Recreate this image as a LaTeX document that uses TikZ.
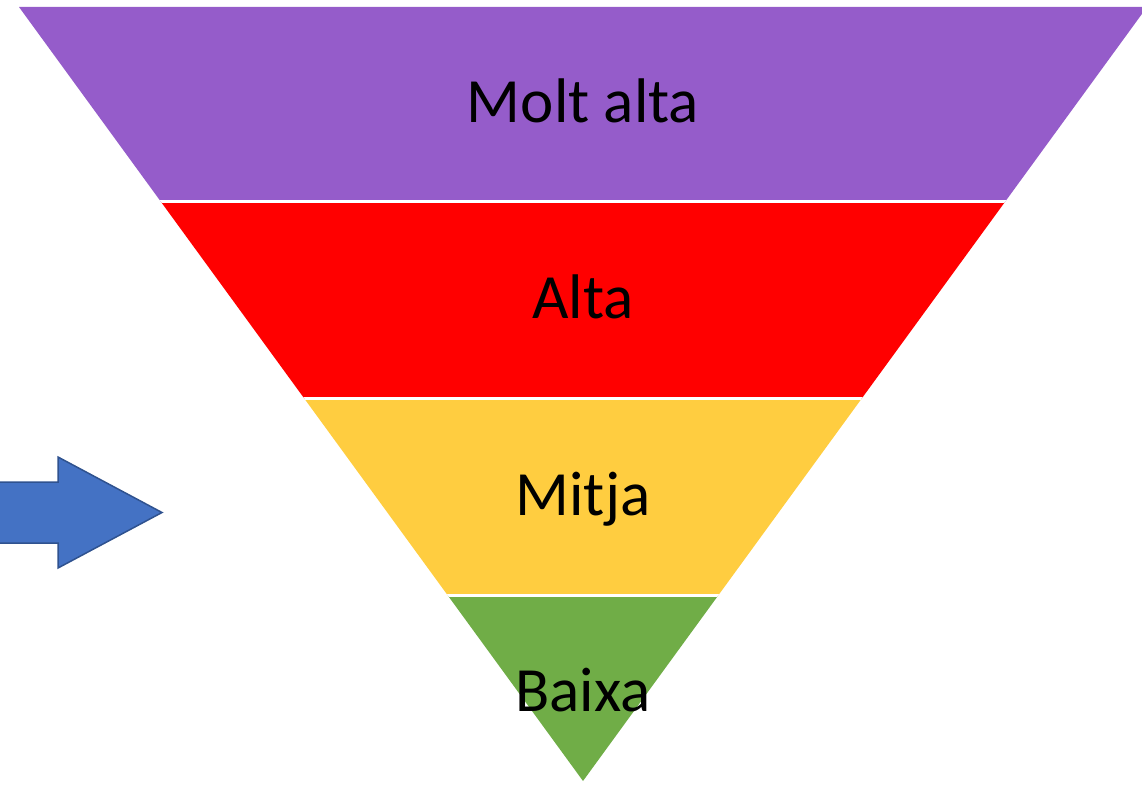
\documentclass[tikz,border=0pt]{standalone}
\usepackage{fontspec}
\setmainfont{Carlito}
\definecolor{cpurple}{HTML}{955CCA}
\definecolor{cred}{HTML}{FF0000}
\definecolor{cyellow}{HTML}{FFCD40}
\definecolor{cgreen}{HTML}{70AD47}
\definecolor{cblue}{HTML}{4472C4}
\definecolor{cblueline}{HTML}{2F528F}
\tikzset{
  lbl/.style={anchor=base, inner sep=0pt, font=\fontsize{63}{76}\selectfont, text=black},
  sep/.style={white, line width=3pt},
  bluearrow/.style={fill=cblue, draw=cblueline, line width=1.5pt, line join=miter},
}
\begin{document}
\begin{tikzpicture}[x=1pt,y=-1pt]
\useasboundingbox (0,0) rectangle (1142,784);
\coordinate (tl) at (19,7);
\coordinate (tr) at (1147,7);
\coordinate (apex) at (583,781);
\begin{scope}
  \clip (tl) -- (tr) -- (apex) -- cycle;
  \fill[cpurple] (0,0) rectangle (1150,201.5);
  \fill[cred] (0,201.5) rectangle (1150,398.5);
  \fill[cyellow] (0,398.5) rectangle (1150,595.5);
  \fill[cgreen] (0,595.5) rectangle (1150,790);
  \draw[sep] (0,201.5) -- (1150,201.5);
  \draw[sep] (0,398.5) -- (1150,398.5);
  \draw[sep] (0,595.5) -- (1150,595.5);
\end{scope}
\node[lbl] (t1) at (583,122) {Molt alta};
\node[lbl] (t2) at (583,318) {Alta};
\node[lbl] (t3) at (583,515) {Mitja};
\node[lbl] (t4) at (583,711) {Baixa};
\draw[bluearrow] (-5,482) -- (58,482) -- (58,457) -- (162,512.5) -- (58,568) -- (58,543) -- (-5,543) -- cycle;
\end{tikzpicture}
\end{document}
